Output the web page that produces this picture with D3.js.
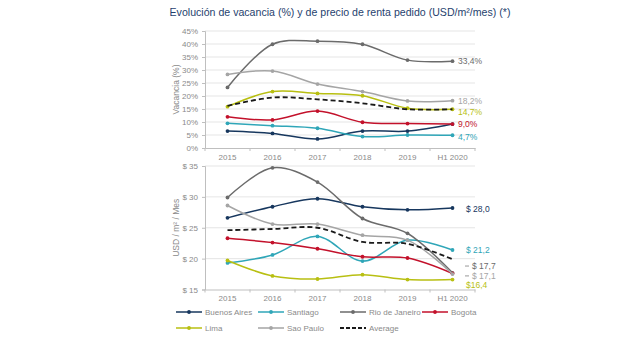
<!DOCTYPE html>
<html>
<head>
<meta charset="utf-8">
<script src="https://cdn.jsdelivr.net/npm/d3@7.9.0/dist/d3.min.js"></script>
<style>
  body { margin: 0; background: #fff; }
  svg { font-family: "Liberation Sans", Arial, sans-serif; }
</style>
</head>
<body>
<svg id="chart" width="640" height="338"></svg>
<script>
// periods on the x axis
const years = ["2015", "2016", "2017", "2018", "2019", "H1 2020"];

// vacancy (%) per city
const vacBuenosAires = [6.5, 5.6, 3.5, 6.5, 6.5, 9.2];
const vacSantiago = [9.5, 8.6, 7.6, 4.4, 5.0, 4.9];
const vacRio = [23.3, 39.9, 41.1, 39.9, 33.8, 33.4];
const vacBogota = [12.0, 10.8, 14.2, 9.9, 9.4, 9.2];
const vacLima = [15.9, 21.7, 21.0, 20.1, 15.3, 14.9];
const vacSaoPaulo = [28.3, 29.6, 24.6, 21.7, 18.1, 18.2];
const vacAverage = [16.2, 19.4, 18.7, 17.2, 14.9, 14.9];

// asking rent (USD/m2/month) per city
const rentBuenosAires = [26.6, 28.4, 29.7, 28.4, 27.9, 28.2];
const rentSantiago = [19.3, 20.6, 23.6, 19.6, 23.0, 21.4];
const rentRio = [29.9, 34.7, 32.4, 26.5, 24.1, 17.7];
const rentBogota = [23.3, 22.6, 21.6, 20.3, 20.1, 17.6];
const rentLima = [19.7, 17.2, 16.7, 17.4, 16.6, 16.6];
const rentSaoPaulo = [28.6, 25.6, 25.6, 23.8, 23.0, 17.5];
const rentAverage = [24.6, 24.8, 25.0, 22.7, 22.4, 19.9];

const vacTicks = [0, 5, 10, 15, 20, 25, 30, 35, 40, 45];
const rentTicks = [15, 20, 25, 30, 35];

const cities = [
  { name: "Buenos Aires", color: "#17375e", vac: vacBuenosAires, rent: rentBuenosAires },
  { name: "Santiago", color: "#2fa6b8", vac: vacSantiago, rent: rentSantiago },
  { name: "Rio de Janeiro", color: "#6b6b6b", vac: vacRio, rent: rentRio },
  { name: "Bogota", color: "#c3112b", vac: vacBogota, rent: rentBogota },
  { name: "Lima", color: "#b8bf12", vac: vacLima, rent: rentLima },
  { name: "Sao Paulo", color: "#a5a5a5", vac: vacSaoPaulo, rent: rentSaoPaulo },
  { name: "Average", color: "#1a1a1a", vac: vacAverage, rent: rentAverage, dashed: true },
];

// end labels
const vacLabels = [
  { text: "33,4%", color: "#6b6b6b", y: 33.4 },
  { text: "18,2%", color: "#a5a5a5", y: 18.2 },
  { text: "14,7%", color: "#b8bf12", y: 13.9 },
  { text: "9,0%", color: "#c3112b", y: 9.2 },
  { text: "4,7%", color: "#2fa6b8", y: 4.3 },
];
const rentLabels = [
  { text: "$ 28,0", color: "#17375e", y: 28.1, dash: false },
  { text: "$ 21,2", color: "#2fa6b8", y: 21.4, dash: false },
  { text: "$ 17,7", color: "#6b6b6b", y: 18.8, dash: true },
  { text: "$ 17,1", color: "#a5a5a5", y: 17.2, dash: true },
  { text: "$16,4", color: "#b8bf12", y: 15.8, dash: false },
];

const svg = d3.select("#chart");
const left = 205, right = 475;
const x = d3.scaleBand().domain(years).range([left, right]);
const cx = (i) => x(years[i]) + x.bandwidth() / 2;

svg.append("text")
  .attr("x", 340).attr("y", 16)
  .attr("text-anchor", "middle")
  .attr("font-size", 10.6)
  .attr("fill", "#1f3f6e")
  .text("Evolución de vacancia (%) y de precio de renta pedido (USD/m²/mes) (*)");

function panel(y, ticks, key, fmt, title, labels, labelX) {
  const [y0, y1] = y.range();
  const g = svg.append("g");

  g.append("g").selectAll("line").data(ticks.slice(1)).join("line")
    .attr("x1", left).attr("x2", right)
    .attr("y1", (d) => y(d)).attr("y2", (d) => y(d))
    .attr("stroke", "#dedede").attr("stroke-width", 0.8);

  const ya = g.append("g").attr("transform", `translate(${left},0)`)
    .call(d3.axisLeft(y).tickValues(ticks).tickFormat(fmt).tickSize(3).tickPadding(4));
  ya.select(".domain").attr("stroke", "#bfbfbf");
  ya.selectAll(".tick line").attr("stroke", "#bfbfbf");
  ya.selectAll("text").attr("fill", "#8a8a8a").attr("font-size", 8);

  const xa = g.append("g").attr("transform", `translate(0,${y0})`)
    .call(d3.axisBottom(x).tickSize(0).tickPadding(6));
  xa.select(".domain").attr("stroke", "#bfbfbf");
  xa.selectAll("text").attr("fill", "#8a8a8a").attr("font-size", 8);
  g.append("g").selectAll("line").data(d3.range(years.length + 1)).join("line")
    .attr("x1", (i) => left + i * x.step()).attr("x2", (i) => left + i * x.step())
    .attr("y1", y0).attr("y2", y0 + 3)
    .attr("stroke", "#bfbfbf");

  g.append("text")
    .attr("transform", `translate(179,${(y0 + y1) / 2}) rotate(-90)`)
    .attr("text-anchor", "middle")
    .attr("font-size", 8.5).attr("fill", "#8a8a8a")
    .text(title);

  const line = d3.line()
    .x((d, i) => cx(i)).y((d) => y(d))
    .curve(d3.curveCatmullRom.alpha(0.5));

  cities.forEach((c) => {
    g.append("path")
      .attr("d", line(c[key]))
      .attr("fill", "none")
      .attr("stroke", c.color)
      .attr("stroke-width", c.dashed ? 1.8 : 1.5)
      .attr("stroke-dasharray", c.dashed ? "5,3" : null);
    if (!c.dashed) {
      g.append("g").selectAll("circle").data(c[key]).join("circle")
        .attr("cx", (d, i) => cx(i)).attr("cy", (d) => y(d))
        .attr("r", 1.9).attr("fill", c.color);
    }
  });

  labels.forEach((l) => {
    if (l.dash) {
      g.append("line")
        .attr("x1", labelX - 1).attr("x2", labelX + 3)
        .attr("y1", y(l.y)).attr("y2", y(l.y))
        .attr("stroke", "#999");
    }
    g.append("text")
      .attr("x", labelX + (l.dash ? 6 : 0)).attr("y", y(l.y) + 3)
      .attr("font-size", 8.5).attr("fill", l.color)
      .text(l.text);
  });
}

const yVac = d3.scaleLinear().domain([0, 45]).range([148, 31]);
panel(yVac, vacTicks, "vac", (d) => d + "%", "Vacancia (%)", vacLabels, 458);

const yRent = d3.scaleLinear().domain([15, 35]).range([289.5, 166]);
panel(yRent, rentTicks, "rent", (d) => "$ " + d, "USD / m² / Mes", rentLabels, 466);

// legend
const legendPos = [
  [176, 312], [258, 312], [340, 312], [422, 312],
  [176, 328], [258, 328], [340, 328],
];
cities.forEach((c, i) => {
  const [lx, ly] = legendPos[i];
  const lg = svg.append("g");
  lg.append("line")
    .attr("x1", lx).attr("x2", lx + 26).attr("y1", ly).attr("y2", ly)
    .attr("stroke", c.color).attr("stroke-width", c.dashed ? 1.8 : 1.5)
    .attr("stroke-dasharray", c.dashed ? "4,2" : null);
  if (!c.dashed) {
    lg.append("circle").attr("cx", lx + 13).attr("cy", ly).attr("r", 1.9).attr("fill", c.color);
  }
  lg.append("text")
    .attr("x", lx + 29).attr("y", ly + 3)
    .attr("font-size", 8).attr("fill", "#8a8a8a")
    .text(c.name);
});
</script>
</body>
</html>
